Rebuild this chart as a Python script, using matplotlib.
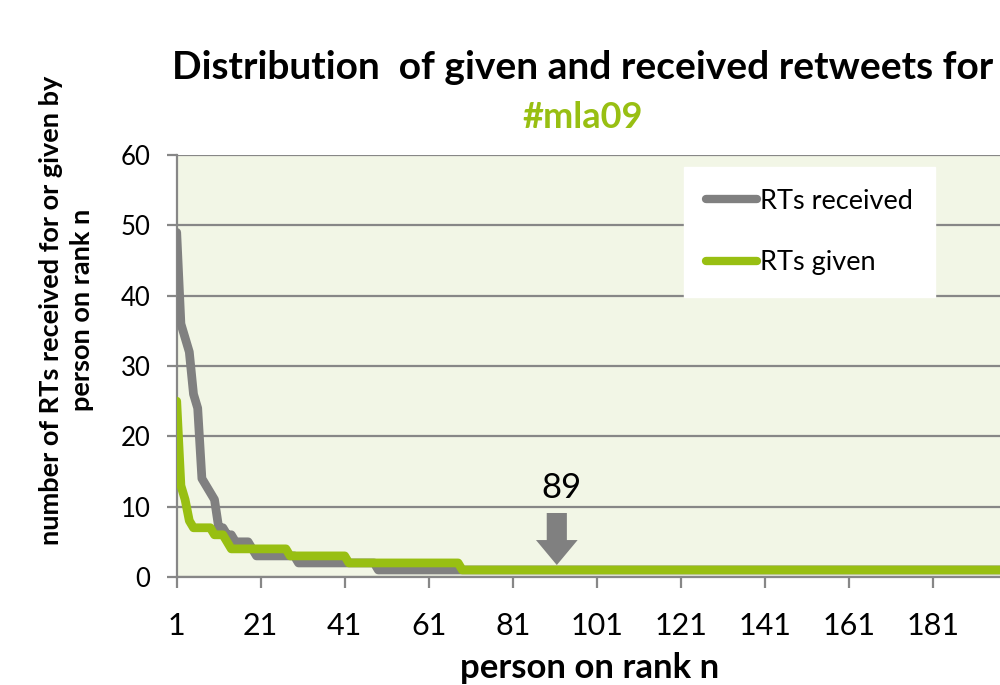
import matplotlib
matplotlib.use("Agg")
import matplotlib.pyplot as plt

# ---- data ----
received = [
    49, 36, 34, 32, 26, 24, 14, 13, 12, 11, 7, 7, 6, 6, 5, 5, 5, 5, 4, 3,
    3, 3, 3, 3, 3, 3, 3, 3, 3, 2, 2, 2, 2, 2, 2, 2, 2, 2, 2, 2,
    2, 2, 2, 2, 2, 2, 2, 2, 1, 1, 1, 1, 1, 1, 1, 1, 1, 1, 1, 1,
    1, 1, 1, 1, 1, 1, 1, 1, 1, 1, 1, 1, 1, 1, 1, 1, 1, 1, 1, 1,
    1, 1, 1, 1, 1, 1, 1, 1, 1, 1, 1, 1, 1, 1, 1, 1, 1, 1, 1, 1,
    1, 1, 1, 1, 1, 1, 1, 1, 1, 1, 1, 1, 1, 1, 1, 1, 1, 1, 1, 1,
    1, 1, 1, 1, 1, 1, 1, 1, 1, 1, 1, 1, 1, 1, 1, 1, 1, 1, 1, 1,
    1, 1, 1, 1, 1, 1, 1, 1, 1, 1, 1, 1, 1, 1, 1, 1, 1, 1, 1, 1,
    1, 1, 1, 1, 1, 1, 1, 1, 1, 1, 1, 1, 1, 1, 1, 1, 1, 1, 1, 1,
    1, 1, 1, 1, 1, 1, 1, 1, 1, 1, 1, 1, 1, 1, 1, 1, 1, 1, 1, 1,
]
given = [
    25, 13, 11, 8, 7, 7, 7, 7, 7, 6, 6, 6, 5, 4, 4, 4, 4, 4, 4, 4,
    4, 4, 4, 4, 4, 4, 4, 3, 3, 3, 3, 3, 3, 3, 3, 3, 3, 3, 3, 3,
    3, 2, 2, 2, 2, 2, 2, 2, 2, 2, 2, 2, 2, 2, 2, 2, 2, 2, 2, 2,
    2, 2, 2, 2, 2, 2, 2, 2, 1, 1, 1, 1, 1, 1, 1, 1, 1, 1, 1, 1,
    1, 1, 1, 1, 1, 1, 1, 1, 1, 1, 1, 1, 1, 1, 1, 1, 1, 1, 1, 1,
    1, 1, 1, 1, 1, 1, 1, 1, 1, 1, 1, 1, 1, 1, 1, 1, 1, 1, 1, 1,
    1, 1, 1, 1, 1, 1, 1, 1, 1, 1, 1, 1, 1, 1, 1, 1, 1, 1, 1, 1,
    1, 1, 1, 1, 1, 1, 1, 1, 1, 1, 1, 1, 1, 1, 1, 1, 1, 1, 1, 1,
    1, 1, 1, 1, 1, 1, 1, 1, 1, 1, 1, 1, 1, 1, 1, 1, 1, 1, 1, 1,
    1, 1, 1, 1, 1, 1, 1, 1, 1, 1, 1, 1, 1, 1, 1, 1, 1, 1, 1, 1,
]
ranks = list(range(1, len(received) + 1))
xtick_labels = [1, 21, 41, 61, 81, 101, 121, 141, 161, 181]
yticks = [0, 10, 20, 30, 40, 50, 60]
marked_rank = 91.5
marked_label = "89"

GRAY = "#808080"
GREEN = "#98BF12"
GRID = "#878787"
BG = "#F2F6E6"
FONT = "Lato"

plt.rcParams["font.family"] = [FONT, "DejaVu Sans"]

fig = plt.figure(figsize=(10, 6.85), dpi=100)
left = 176.7 / 1000
bottom = (685 - 577) / 685
top = (685 - 155) / 685
ax = fig.add_axes([left, bottom, 1.0 - left, top - bottom])
ax.set_facecolor(BG)

ax.plot(ranks, received, color=GRAY, lw=6.3, solid_capstyle="round",
        solid_joinstyle="round", label="RTs received", zorder=3)
ax.plot(ranks, given, color=GREEN, lw=6.3, solid_capstyle="round",
        solid_joinstyle="round", label="RTs given", zorder=4)

ax.set_xlim(1, 1 + (1000 - 176.7) / 4.2)
ax.set_ylim(0, 60)
ax.set_yticks(yticks)
ax.set_xticks(xtick_labels)
ax.set_xticklabels([str(v) for v in xtick_labels])
ax.yaxis.grid(True, color=GRID, lw=1.6, zorder=1)
ax.set_axisbelow(True)
for s in ["top", "right"]:
    ax.spines[s].set_visible(False)
for s in ["left", "bottom"]:
    ax.spines[s].set_color(GRID)
    ax.spines[s].set_linewidth(1.6)
ax.tick_params(axis="x", colors=GRID, length=8, width=1.6, labelsize=22,
               labelcolor="black", pad=17)
ax.tick_params(axis="y", colors=GRID, length=7, width=1.6, labelsize=18.5,
               labelcolor="black", pad=12)

leg = ax.legend(loc="upper left", bbox_to_anchor=((684 - 176.7) / 823.3, (577 - 167) / 422),
                frameon=True, fancybox=False, framealpha=1, edgecolor="white",
                facecolor="white", fontsize=19.5, handlelength=1.9, handletextpad=0.12,
                labelspacing=1.35, borderpad=0.8, borderaxespad=0)
for line in leg.get_lines():
    line.set_linewidth(6)
    line.set_solid_capstyle("round")

# marker arrow and label
ax.annotate("", xy=(marked_rank, 1.7), xytext=(marked_rank, 9.1),
            arrowprops=dict(arrowstyle="simple,head_width=3.0,head_length=1.8,tail_width=1.45",
                            mutation_scale=10, color=GRAY, lw=0, shrinkA=0, shrinkB=0),
            zorder=5)
ax.text(marked_rank + 1.2, 12.6, marked_label, ha="center", va="center", fontsize=25,
        color="black", zorder=5)

fig.text(0.583, 0.902, "Distribution  of given and received retweets for",
         ha="center", va="center", fontsize=28, fontweight="bold")
fig.text(0.583, 0.829, "#mla09", ha="center", va="center", fontsize=26,
         fontweight="bold", color=GREEN)
fig.text(0.067, 0.547, "number of RTs received for or given by\nperson on rank n",
         rotation=90, ha="center", va="center", fontsize=19.5, fontweight="bold",
         multialignment="center", linespacing=1.35)
fig.text(0.59, 0.025, "person on rank n", ha="center", va="center",
         fontsize=25, fontweight="bold")

fig.savefig("out.png", dpi=100)
